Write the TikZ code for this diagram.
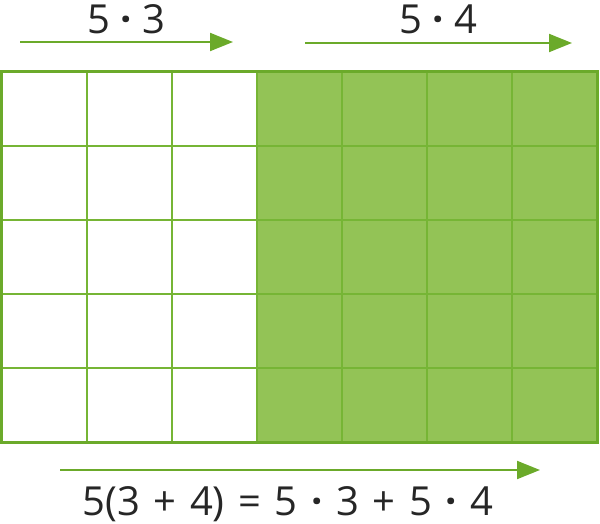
\documentclass[tikz,border=0pt]{standalone}
\usepackage{fontspec}
\setmainfont{Open Sans}
\usepackage{xcolor}
\usepackage{tikz}
\usetikzlibrary{arrows.meta, positioning}
\definecolor{leaf}{HTML}{6BAA2A}
\definecolor{leafline}{HTML}{76B535}
\definecolor{leaffill}{HTML}{93C356}
\newcommand{\gap}{\hspace{0.34em}}
\newcommand{\tdot}{{\bfseries ·}}

\begin{document}
\begin{tikzpicture}[x=1pt, y=-1pt, font=\fontsize{40}{46}\selectfont,
    lbl/.style = {anchor=base, inner sep=0pt, text=black!85},
    arr/.style = {-{Triangle[length=23pt, width=18pt]}, leaf, line width=2pt}]
    \useasboundingbox (0,0) rectangle (600,524);

    \fill [leaffill] (257,71.5) rectangle (597,442);
    \foreach \i in {1,...,6}
        \draw [leafline, line width=2pt] (2+85*\i,71.5) -- (2+85*\i,442);
    \foreach \j in {1,...,4}
        \draw [leafline, line width=2pt] (2,71.5+74.1*\j) -- (597,71.5+74.1*\j);
    \draw [leaf, line width=3pt] (1.5,71.5) rectangle (597.5,442.5);

    \coordinate (a0) at (20,42);
    \coordinate (a1) at (233,42);
    \coordinate (b0) at (305,43);
    \coordinate (b1) at (572,43);
    \coordinate (c0) at (60,470);
    \coordinate (c1) at (540,470);

    \node (l1) [lbl] at (126,34) {5 \tdot{} 3};
    \node (l2) [lbl] at (438,34) {5 \tdot{} 4};
    \node (l3) [lbl] at (288,515) {5(3\gap+\gap4)\gap=\gap5\gap\tdot\gap3\gap+\gap5\gap\tdot\gap4};

\path [arr]
    (a0) edge (a1)
    (b0) edge (b1)
    (c0) edge (c1);

\end{tikzpicture}
\end{document}
